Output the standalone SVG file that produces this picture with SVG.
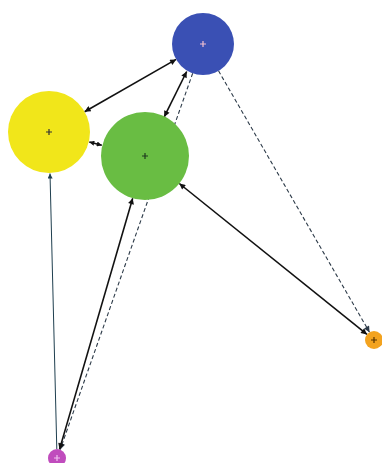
<svg xmlns="http://www.w3.org/2000/svg" width="382" height="463" viewBox="0 0 382 463">
<defs>
<marker id="ah" viewBox="0 0 10 10" refX="10" refY="5" markerWidth="8" markerHeight="6" markerUnits="userSpaceOnUse" orient="auto-start-reverse">
<path d="M0,0 L10,5 L0,10 z" fill="#111"/>
</marker>
<marker id="ahs" viewBox="0 0 10 10" refX="10" refY="5" markerWidth="6" markerHeight="5" markerUnits="userSpaceOnUse" orient="auto-start-reverse">
<path d="M0,0 L10,5 L0,10 z" fill="#111"/>
</marker>
<marker id="ahd" viewBox="0 0 10 10" refX="10" refY="5" markerWidth="7" markerHeight="6" markerUnits="userSpaceOnUse" orient="auto-start-reverse">
<path d="M0,0 L10,5 L0,10 z" fill="#2c3a48"/>
</marker>
<marker id="aht" viewBox="0 0 10 10" refX="10" refY="5" markerWidth="7" markerHeight="5" markerUnits="userSpaceOnUse" orient="auto-start-reverse">
<path d="M0,0 L10,5 L0,10 z" fill="#1f3f4f"/>
</marker>
</defs>
<style>
.e{fill:none;stroke:#111;stroke-width:1.6}
.d{fill:none;stroke:#2c3a48;stroke-width:1.1;stroke-dasharray:4,2.5}
.t{fill:none;stroke:#1f3f4f;stroke-width:1}
.x{fill:none;stroke-width:1.2}
</style>
<rect width="382" height="463" fill="#ffffff"/>
<g id="connectors">
<line class="d" x1="192.7" y1="73.2" x2="60.2" y2="449.5" marker-end="url(#ahd)"/>
<line class="d" x1="218.5" y1="70.8" x2="369.5" y2="332.2" marker-end="url(#ahd)"/>
<line class="e" x1="176.1" y1="59.4" x2="84.6" y2="111.7" marker-start="url(#ah)" marker-end="url(#ah)"/>
<line class="e" x1="186.7" y1="71.5" x2="164.2" y2="116.9" marker-start="url(#ah)" marker-end="url(#ah)"/>
<line class="e" x1="132.7" y1="198.2" x2="59.5" y2="449.4" marker-start="url(#ah)" marker-end="url(#ah)"/>
<line class="t" x1="50" y1="173.5" x2="56.8" y2="449" marker-start="url(#aht)"/>
<line class="e" x1="89.3" y1="142" x2="101.8" y2="145.2" marker-start="url(#ahs)" marker-end="url(#ahs)"/>
<line class="e" x1="179.3" y1="183.5" x2="367" y2="334.4" marker-start="url(#ah)" marker-end="url(#ah)"/>
</g>
<g id="node-blue">
<circle cx="203" cy="44" r="31" fill="#3a50b4"/>
<path class="x" d="M200,44 h6 M203,41 v6" stroke="#f2c0d0"/>
</g>
<g id="node-yellow">
<circle cx="49" cy="132" r="41" fill="#f1e61a"/>
<path class="x" d="M46,132 h6 M49,129 v6" stroke="#333"/>
</g>
<g id="node-green">
<circle cx="145" cy="156" r="44" fill="#69bd43"/>
<path class="x" d="M142,156 h6 M145,153 v6" stroke="#1e3a1e"/>
</g>
<g id="node-orange">
<circle cx="374" cy="340" r="9" fill="#f3a31f"/>
<path class="x" d="M371,340 h6 M374,337 v6" stroke="#553300"/>
</g>
<g id="node-purple">
<circle cx="57" cy="458" r="9" fill="#c04cbd"/>
<path class="x" d="M54,458 h6 M57,455 v6" stroke="#f0c0f0"/>
</g>
</svg>
